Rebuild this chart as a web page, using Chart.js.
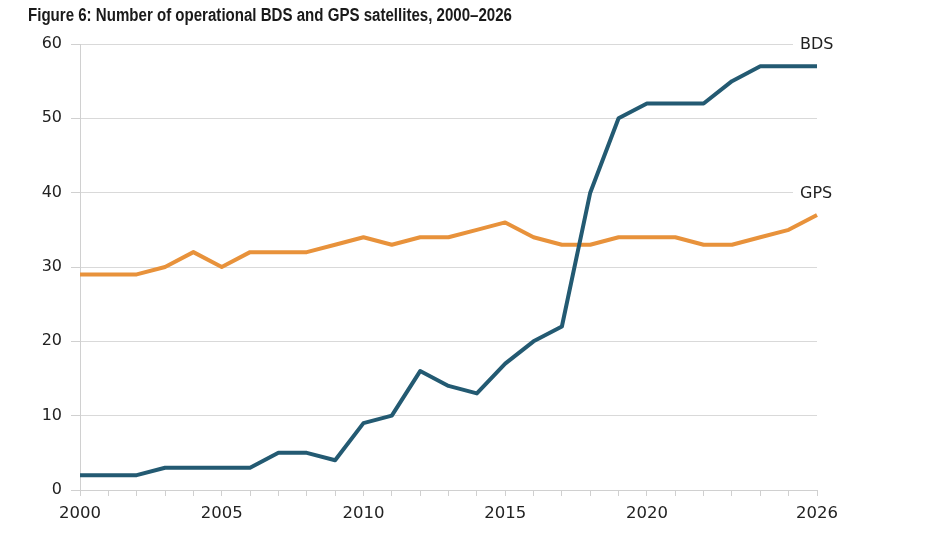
<!DOCTYPE html>
<html>
<head>
<meta charset="utf-8">
<script src="https://cdn.jsdelivr.net/npm/chart.js@4.4.1/dist/chart.umd.min.js"></script>
<style>
  html, body { margin: 0; padding: 0; background: #fff; }
  #wrap { position: relative; width: 941px; height: 546px; }
  #title { position: absolute; left: 28px; top: 5px; font-family: "Liberation Sans", Arial, sans-serif; font-weight: bold; font-size: 17.5px; line-height: 20px; color: #1a1a1a; white-space: nowrap; transform-origin: 0 0; }
  canvas { position: absolute; left: 0; top: 0; }
</style>
</head>
<body>
<div id="wrap">
  <canvas id="c" width="941" height="546"></canvas>
  <div id="title">Figure 6: Number of operational BDS and GPS satellites, 2000–2026</div>
</div>
<script>
const years = ["2000","2001","2002","2003","2004","2005","2006","2007","2008","2009","2010","2011","2012","2013","2014","2015","2016","2017","2018","2019","2020","2021","2022","2023","2024","2025","2026"];
const bdsValues = [2,2,2,3,3,3,3,5,5,4,9,10,16,14,13,17,20,22,40,50,52,52,52,55,57,57,57];
const gpsValues = [29,29,29,30,32,30,32,32,32,33,34,33,34,34,35,36,34,33,33,34,34,34,33,33,34,35,37];
const shownYearLabels = ["2000","2005","2010","2015","2020","2026"];
const seriesLabels = [{ name: "BDS", at: 60 }, { name: "GPS", at: 40 }];

// condense the title to the reference width
(function () {
  const t = document.getElementById('title');
  const w = t.getBoundingClientRect().width;
  t.style.transform = 'scaleX(' + (484 / w) + ')';
})();

const FONT = "'DejaVu Sans', Verdana, sans-serif";

const endLabels = {
  id: 'endLabels',
  beforeDatasetsDraw(chart) {
    const { ctx, chartArea, scales } = chart;
    ctx.save();
    seriesLabels.forEach(s => {
      const y = scales.y.getPixelForValue(s.at);
      ctx.fillStyle = '#ffffff';
      ctx.fillRect(chartArea.right - 24, y - 3, 60, 6);
    });
    ctx.restore();
  },
  afterDatasetsDraw(chart) {
    const { ctx, chartArea, scales } = chart;
    ctx.save();
    ctx.font = "16px " + FONT;
    ctx.fillStyle = '#222';
    ctx.textBaseline = 'middle';
    ctx.textAlign = 'left';
    seriesLabels.forEach(s => {
      const y = scales.y.getPixelForValue(s.at);
      ctx.fillText(s.name, chartArea.right - 17, y + 1);
    });
    ctx.restore();
  }
};

new Chart(document.getElementById('c'), {
  type: 'line',
  data: {
    labels: years,
    datasets: [
      { label: 'BDS', data: bdsValues, borderColor: '#235a72', borderWidth: 4, pointRadius: 0, tension: 0, fill: false, borderJoinStyle: 'round' },
      { label: 'GPS', data: gpsValues, borderColor: '#e8923b', borderWidth: 4, pointRadius: 0, tension: 0, fill: false, borderJoinStyle: 'round' }
    ]
  },
  options: {
    responsive: false,
    animation: false,
    devicePixelRatio: 1,
    layout: { padding: { top: 44, right: 124, left: 0, bottom: 0 } },
    plugins: { legend: { display: false }, tooltip: { enabled: false }, title: { display: false } },
    scales: {
      x: {
        type: 'category',
        offset: false,
        afterFit(scale) { scale.height = 56; },
        grid: { display: true, drawOnChartArea: false, drawTicks: true, tickLength: 6, color: '#d0d0d0', lineWidth: 1 },
        border: { display: true, color: '#d0d0d0', width: 1 },
        ticks: {
          autoSkip: false, maxRotation: 0, minRotation: 0, padding: 8,
          color: '#222', font: { family: FONT, size: 16.5 },
          callback(val, idx) { const l = years[idx]; return shownYearLabels.includes(l) ? l : ''; }
        }
      },
      y: {
        min: 0, max: 60,
        afterFit(scale) { scale.width = 80; },
        grid: { color: '#d9d9d9', lineWidth: 1, drawTicks: true, tickLength: 9, tickColor: '#d0d0d0' },
        border: { display: true, color: '#d0d0d0', width: 1 },
        ticks: { stepSize: 10, padding: 9, color: '#222', font: { family: FONT, size: 16 } }
      }
    }
  },
  plugins: [endLabels]
});
</script>
</body>
</html>
